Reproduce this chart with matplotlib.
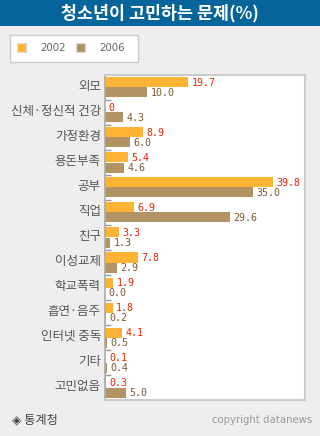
import matplotlib
matplotlib.use("Agg")
import matplotlib.pyplot as plt
from matplotlib.patches import Rectangle
import numpy as np

plt.rcParams['font.family'] = ['Noto Sans CJK KR', 'DejaVu Sans']

title = "청소년이 고민하는 문제(%)"
categories = ["외모", "신체·정신적 건강", "가정환경", "용돈부족", "공부", "직업", "친구",
              "이성교제", "학교폭력", "흡연·음주", "인터넷 중독", "기타", "고민없음"]
series_names = ["2002", "2006"]
v2002 = [19.7, 0, 8.9, 5.4, 39.8, 6.9, 3.3, 7.8, 1.9, 1.8, 4.1, 0.1, 0.3]
v2006 = [10.0, 4.3, 6.0, 4.6, 35.0, 29.6, 1.3, 2.9, 0.0, 0.2, 0.5, 0.4, 5.0]
labels2002 = ["19.7", "0", "8.9", "5.4", "39.8", "6.9", "3.3", "7.8", "1.9", "1.8", "4.1", "0.1", "0.3"]
labels2006 = ["10.0", "4.3", "6.0", "4.6", "35.0", "29.6", "1.3", "2.9", "0.0", "0.2", "0.5", "0.4", "5.0"]
source = "◈ 통계청"
copyright_text = "copyright datanews"

C2002 = "#fdb335"
C2006 = "#b39263"
BG = "#eeeeee"

W, H = 320, 436
fig = plt.figure(figsize=(W / 100, H / 100), dpi=100, facecolor=BG)

def fx(px):
    return px / W

def fy(py):
    return 1 - py / H

# title bar
fig.patches.append(Rectangle((0, fy(26)), 1, 26 / H, transform=fig.transFigure,
                             facecolor="#05649a", edgecolor="none", zorder=0))
fig.text(0.5, fy(13.5), title, color="white", fontsize=12.5, fontweight="bold",
         ha="center", va="center")

# legend box
fig.patches.append(Rectangle((fx(10), fy(62.5)), fx(128), 27.5 / H, transform=fig.transFigure,
                             facecolor="white", edgecolor="#cccccc", linewidth=1))
for sx, tx, col, name in [(17, 40, C2002, series_names[0]), (76, 99, C2006, series_names[1])]:
    fig.patches.append(Rectangle((fx(sx), fy(52)), fx(9), 9 / H, transform=fig.transFigure,
                                 facecolor=col, edgecolor="#dddddd", linewidth=0.8))
    fig.text(fx(tx), fy(48), name, color="#666666", fontsize=7.4, ha="left", va="center",
             family="DejaVu Sans")

ax = fig.add_axes([fx(105), fy(400), fx(200), (400 - 75) / H])
ax.set_facecolor("white")
n = len(categories)
y = np.arange(n)
bh = 0.4
ax.barh(y - bh / 2, v2002, height=bh, color=C2002, zorder=2)
ax.barh(y + bh / 2, v2006, height=bh, color=C2006, zorder=2)

for i in range(n):
    ax.annotate(labels2002[i], (v2002[i], y[i] - bh / 2), xytext=(2.5, -0.5),
                textcoords="offset points", ha="left", va="center", fontsize=7.2,
                color="#ee2200", family="DejaVu Sans Mono", zorder=3)
    ax.annotate(labels2006[i], (v2006[i], y[i] + bh / 2), xytext=(2.5, -0.5),
                textcoords="offset points", ha="left", va="center", fontsize=7.2,
                color="#7a5a30", family="DejaVu Sans Mono", zorder=3)

ax.set_xlim(0, 47.4)
ax.set_ylim(n - 0.5, -0.5)
ax.set_xticks([])
ax.set_yticks(y - 0.1)
ax.set_yticklabels(categories, fontsize=9, color="#555555")
ax.tick_params(axis="y", length=0, pad=3)
ax.set_yticks(np.arange(n - 1) + 0.5, minor=True)
ax.tick_params(axis="y", which="minor", direction="in", length=4, width=1, color="#999999")
for s in ["top", "right", "bottom"]:
    ax.spines[s].set_color("#cccccc")
    ax.spines[s].set_linewidth(1.5)
ax.spines["left"].set_color("#aaaaaa")
ax.spines["left"].set_linewidth(1.2)

fig.text(fx(12), fy(420), source, color="#444444", fontsize=8.8, ha="left", va="center")
fig.text(fx(312), fy(420), copyright_text, color="#999999", fontsize=7.3, ha="right",
         va="center", family="DejaVu Sans")

fig.savefig("out.png", dpi=100, facecolor=BG)
